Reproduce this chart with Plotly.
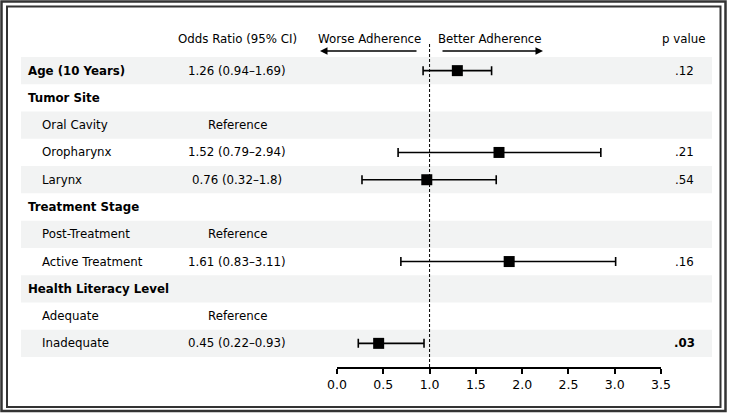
import plotly.graph_objects as go

# ---- data ----
row_labels = ["Age (10 Years)", "Tumor Site", "Oral Cavity", "Oropharynx", "Larynx",
              "Treatment Stage", "Post-Treatment", "Active Treatment",
              "Health Literacy Level", "Adequate", "Inadequate"]
row_is_header = [True, True, False, False, False, True, False, False, True, False, False]
or_text = ["1.26 (0.94–1.69)", "", "Reference", "1.52 (0.79–2.94)", "0.76 (0.32–1.8)",
           "", "Reference", "1.61 (0.83–3.11)", "", "Reference", "0.45 (0.22–0.93)"]
p_text = [".12", "", "", ".21", ".54", "", "", ".16", "", "", ".03"]
p_bold = [False, False, False, False, False, False, False, False, False, False, True]
# plotted positions as drawn in the picture
est = [1.30, None, None, 1.75, 0.97, None, None, 1.86, None, None, 0.45]
lo = [0.93, None, None, 0.66, 0.27, None, None, 0.69, None, None, 0.23]
hi = [1.67, None, None, 2.85, 1.72, None, None, 3.01, None, None, 0.94]
x_ticks = [0.0, 0.5, 1.0, 1.5, 2.0, 2.5, 3.0, 3.5]

# ---- geometry (pixels) ----
FW, FH = 731, 413
L, R = 337, 661          # x=0 .. x=3.5
T, B = 30, 367           # plot top .. axis line
W, H = R - L, B - T
ROW0, ROWH = 57, 300 / 11


def px(x):
    return (x - L) / W


def py(y):
    return (B - y) / H


y_top = -(ROW0 + ROWH / 2 - T) / ROWH
y_bot = 10 + (B - (ROW0 + ROWH * 10.5)) / ROWH

FONT = "DejaVu Sans"
FS = 11.8

idx = [i for i, v in enumerate(est) if v is not None]
xs = [est[i] for i in idx]
ys = [i for i in idx]
plus = [hi[i] - est[i] for i in idx]
minus = [est[i] - lo[i] for i in idx]

fig = go.Figure()
fig.add_trace(go.Scatter(
    x=xs, y=ys, mode="markers",
    marker=dict(symbol="square", size=11, color="black"),
    error_x=dict(type="data", symmetric=False, array=plus, arrayminus=minus,
                 color="black", thickness=1.6, width=4.5),
    showlegend=False, hoverinfo="x+y"))

shapes = []
# shaded bands
for i in range(len(row_labels)):
    if i % 2 == 0:
        shapes.append(dict(type="rect", xref="paper", yref="y",
                           x0=px(21), x1=px(712), y0=i - 0.5, y1=i + 0.5,
                           fillcolor="#f2f3f3", line=dict(width=0), layer="below"))
# dashed reference line
shapes.append(dict(type="line", xref="x", yref="paper", x0=1, x1=1,
                   y0=0, y1=py(43), line=dict(color="black", width=1, dash="3px,2px")))
# double border
shapes.append(dict(type="rect", xref="paper", yref="paper",
                   x0=px(1.5), x1=px(725.5), y0=py(1.5), y1=py(411),
                   line=dict(color="#333", width=2.5)))
shapes.append(dict(type="rect", xref="paper", yref="paper",
                   x0=px(7), x1=px(720.5), y0=py(6.5), y1=py(407),
                   line=dict(color="#333", width=2)))

ann = []
# headers
for txt, x in [("Odds Ratio (95% CI)", 237), ("Worse Adherence", 369),
               ("Better Adherence", 490), ("p value", 683)]:
    ann.append(dict(text=txt, xref="paper", yref="paper", x=px(x), y=py(39),
                    showarrow=False, xanchor="center", yanchor="middle",
                    font=dict(family=FONT, size=FS, color="black")))
# arrows
ann.append(dict(text="", xref="paper", yref="paper", x=px(320), y=py(51),
                ax=98, ay=0, showarrow=True, arrowhead=2, arrowsize=1,
                arrowwidth=1.5, arrowcolor="black"))
ann.append(dict(text="", xref="paper", yref="paper", x=px(543), y=py(51),
                ax=-102, ay=0, showarrow=True, arrowhead=2, arrowsize=1,
                arrowwidth=1.5, arrowcolor="black"))
# row texts
for i, lab in enumerate(row_labels):
    hdr = row_is_header[i]
    ann.append(dict(text=f"<b>{lab}</b>" if hdr else lab, xref="paper", yref="y",
                    x=px(26 if hdr else 40), y=i, showarrow=False,
                    xanchor="left", yanchor="middle",
                    font=dict(family=FONT, size=FS, color="black")))
    if or_text[i]:
        ann.append(dict(text=or_text[i], xref="paper", yref="y", x=px(237), y=i,
                        showarrow=False, xanchor="center", yanchor="middle",
                        font=dict(family=FONT, size=FS, color="black")))
    if p_text[i]:
        t = f"<b>{p_text[i]}</b>" if p_bold[i] else p_text[i]
        ann.append(dict(text=t, xref="paper", yref="y", x=px(684), y=i,
                        showarrow=False, xanchor="center", yanchor="middle",
                        font=dict(family=FONT, size=FS, color="black")))

fig.update_layout(
    width=FW, height=FH,
    margin=dict(l=L, r=FW - R, t=T, b=FH - B, pad=0),
    paper_bgcolor="white", plot_bgcolor="rgba(0,0,0,0)",
    shapes=shapes, annotations=ann,
    xaxis=dict(range=[0, 3.5], tickvals=x_ticks, ticktext=[f"{v:.1f}" for v in x_ticks],
               showline=True, linecolor="black", linewidth=1.5,
               ticks="outside", ticklen=5, tickwidth=1.5, tickcolor="black",
               showgrid=False, zeroline=False,
               tickfont=dict(family=FONT, size=12.5, color="black")),
    yaxis=dict(range=[y_bot, y_top], visible=False, showgrid=False, zeroline=False),
)

fig.write_html("out.html", config={"displayModeBar": False},
               post_script="document.body.style.margin='0';document.body.style.overflow='hidden';")
